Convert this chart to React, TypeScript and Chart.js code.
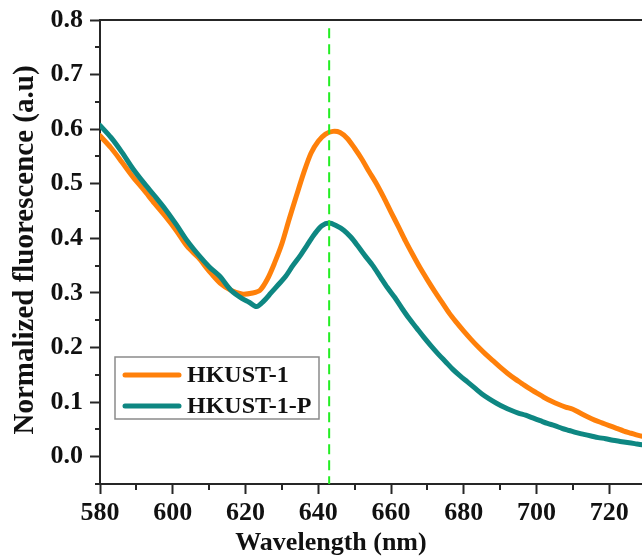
import React, { useEffect, useRef } from "react";
import { Chart, registerables } from "chart.js";

Chart.register(...registerables);

// ---- data ----
const hkustWavelength = [580,583,586,589,592,595,598,601,604,607,610,613,616,619,622,624,626,628,630,632,634,636,638,640,642,644,646,648,650,652,654,656,658,660,662,664,666,668,670,672,674,676,678,680,682,684,686,688,690,692,694,696,698,700,702,704,706,708,710,712,714,716,718,720,722,724,726,728,730,732];
const hkustValues = [0.588,0.566,0.540,0.513,0.489,0.464,0.440,0.414,0.385,0.365,0.340,0.318,0.305,0.298,0.300,0.305,0.325,0.355,0.390,0.435,0.478,0.520,0.556,0.578,0.591,0.596,0.594,0.583,0.565,0.545,0.522,0.500,0.475,0.448,0.422,0.395,0.370,0.346,0.324,0.303,0.283,0.263,0.246,0.230,0.215,0.201,0.188,0.176,0.164,0.153,0.143,0.134,0.125,0.117,0.109,0.102,0.096,0.091,0.087,0.080,0.073,0.067,0.062,0.057,0.052,0.047,0.043,0.039,0.036,0.033];

const hkustPWavelength = [580,583,586,589,592,595,598,601,604,607,610,613,616,619,621,623,625,627,629,631,633,635,637,639,641,643,645,647,649,651,653,655,657,659,661,663,665,667,669,671,673,675,677,679,681,683,685,687,689,691,693,695,697,699,701,703,705,707,709,711,713,715,717,719,721,723,725,727,729,731];
const hkustPValues = [0.607,0.585,0.558,0.528,0.502,0.478,0.453,0.425,0.395,0.370,0.348,0.330,0.305,0.290,0.283,0.275,0.285,0.300,0.315,0.330,0.350,0.368,0.388,0.408,0.423,0.428,0.423,0.415,0.402,0.385,0.367,0.350,0.330,0.310,0.292,0.272,0.253,0.236,0.219,0.203,0.188,0.174,0.160,0.148,0.137,0.126,0.115,0.106,0.098,0.091,0.085,0.080,0.076,0.071,0.066,0.061,0.057,0.052,0.048,0.044,0.041,0.038,0.035,0.033,0.030,0.028,0.026,0.024,0.022,0.021];

const markerWavelength = 643;
const markerRange = [0.785, -0.05];

const xMajorTicks = [580, 600, 620, 640, 660, 680, 700, 720, 740];
const xMinorTicks = [590, 610, 630, 650, 670, 690, 710, 730];
const yMajorTicks = [0.0, 0.1, 0.2, 0.3, 0.4, 0.5, 0.6, 0.7, 0.8];
const yMinorTicks = [-0.05, 0.05, 0.15, 0.25, 0.35, 0.45, 0.55, 0.65, 0.75];

const seriesLabels = ["HKUST-1", "HKUST-1-P"];
const xTitle = "Wavelength (nm)";
const yTitle = "Normalized fluorescence (a.u)";

// ---- style ----
const ORANGE = "#FF800A";
const TEAL = "#0E8782";
const GREEN = "#22EE22";
const AXIS = "#262626";
const FONT = "'Liberation Serif', 'Times New Roman', serif";

const CANVAS_W = 712;
const CANVAS_H = 556;

const decorPlugin = {
  id: "decor",
  afterDraw(chart: any) {
    const ctx = chart.ctx as CanvasRenderingContext2D;
    const xs = chart.scales.x;
    const ys = chart.scales.y;
    const area = chart.chartArea;
    ctx.save();
    // minor ticks
    ctx.strokeStyle = AXIS;
    ctx.lineWidth = 2;
    for (const v of xMinorTicks) {
      const px = Math.round(xs.getPixelForValue(v));
      ctx.beginPath();
      ctx.moveTo(px, area.bottom);
      ctx.lineTo(px, area.bottom + 6);
      ctx.stroke();
    }
    for (const v of yMinorTicks) {
      const py = Math.round(ys.getPixelForValue(v));
      ctx.beginPath();
      ctx.moveTo(area.left, py);
      ctx.lineTo(area.left - 5, py);
      ctx.stroke();
    }

    // legend
    const lx = 115, ly = 357, lw = 204, lh = 62;
    ctx.fillStyle = "#ffffff";
    ctx.fillRect(lx, ly, lw, lh);
    ctx.strokeStyle = "#8a8a8a";
    ctx.lineWidth = 1.5;
    ctx.strokeRect(lx, ly, lw, lh);
    const entries = [
      { label: seriesLabels[0], color: ORANGE, y: 375 },
      { label: seriesLabels[1], color: TEAL, y: 406 },
    ];
    ctx.font = `bold 24px ${FONT}`;
    ctx.textBaseline = "middle";
    ctx.textAlign = "left";
    for (const e of entries) {
      ctx.strokeStyle = e.color;
      ctx.lineWidth = 5;
      ctx.lineCap = "round";
      ctx.beginPath();
      ctx.moveTo(125, e.y);
      ctx.lineTo(179, e.y);
      ctx.stroke();
      ctx.fillStyle = "#111";
      ctx.fillText(e.label, 187, e.y + 1);
    }

    // titles
    ctx.fillStyle = "#111";
    ctx.font = `bold 26px ${FONT}`;
    ctx.textAlign = "center";
    ctx.textBaseline = "alphabetic";
    ctx.fillText(xTitle, 331, 550);

    ctx.save();
    ctx.translate(33, 250);
    ctx.rotate(-Math.PI / 2);
    ctx.font = `bold 29px ${FONT}`;
    ctx.textAlign = "center";
    ctx.textBaseline = "alphabetic";
    ctx.fillText(yTitle, 0, 0);
    ctx.restore();

    ctx.restore();
  },
};

export default function App() {
  const ref = useRef<HTMLCanvasElement | null>(null);

  useEffect(() => {
    if (!ref.current) return;
    const tickFont = { family: FONT, size: 26, weight: "bold" as const, lineHeight: 1 };
    const chart = new Chart(ref.current, {
      type: "line",
      data: {
        datasets: [
          {
            label: "marker",
            data: markerRange.map((v) => ({ x: markerWavelength, y: v })),
            borderColor: GREEN,
            borderWidth: 2,
            borderDash: [10, 6],
            pointRadius: 0,
            tension: 0,
          },
          {
            label: seriesLabels[1],
            data: hkustPWavelength.map((w, i) => ({ x: w, y: hkustPValues[i] })),
            borderColor: TEAL,
            borderWidth: 5,
            pointRadius: 0,
            tension: 0.3,
            borderJoinStyle: "round",
            borderCapStyle: "round",
          },
          {
            label: seriesLabels[0],
            data: hkustWavelength.map((w, i) => ({ x: w, y: hkustValues[i] })),
            borderColor: ORANGE,
            borderWidth: 5,
            pointRadius: 0,
            tension: 0.3,
            borderJoinStyle: "round",
            borderCapStyle: "round",
          },
        ],
      },
      options: {
        responsive: false,
        animation: false,
        devicePixelRatio: 1,
        layout: { padding: { top: 20, left: 0, right: 0, bottom: 0 } },
        plugins: { legend: { display: false }, tooltip: { enabled: false } },
        scales: {
          x: {
            type: "linear",
            position: "bottom",
            min: 580,
            max: 740,
            afterBuildTicks: (s: any) => {
              s.ticks = xMajorTicks.map((v) => ({ value: v }));
            },
            afterFit: (s: any) => {
              s.height = 72;
            },
            grid: {
              drawOnChartArea: false,
              drawTicks: true,
              tickLength: 10,
              tickWidth: 2,
              tickColor: AXIS,
            },
            border: { display: true, color: AXIS, width: 2 },
            ticks: {
              color: "#111",
              font: tickFont,
              padding: 6,
              maxRotation: 0,
              autoSkip: false,
              callback: (v: any) => String(v),
            },
          },
          x2: {
            type: "linear",
            position: "top",
            min: 580,
            max: 740,
            afterFit: (s: any) => {
              s.height = 0;
            },
            grid: { display: false, drawTicks: false },
            border: { display: true, color: AXIS, width: 2 },
            ticks: { display: false },
          },
          y: {
            type: "linear",
            position: "left",
            min: -0.05,
            max: 0.8,
            afterBuildTicks: (s: any) => {
              s.ticks = yMajorTicks.map((v) => ({ value: v }));
            },
            afterFit: (s: any) => {
              s.width = 100;
            },
            grid: {
              drawOnChartArea: false,
              drawTicks: true,
              tickLength: 10,
              tickWidth: 2,
              tickColor: AXIS,
            },
            border: { display: true, color: AXIS, width: 2 },
            ticks: {
              color: "#111",
              font: tickFont,
              padding: 7,
              autoSkip: false,
              callback: (v: any) => Number(v).toFixed(1),
            },
          },
          y2: {
            type: "linear",
            position: "right",
            min: -0.05,
            max: 0.8,
            afterFit: (s: any) => {
              s.width = CANVAS_W - 682;
            },
            grid: { display: false, drawTicks: false },
            border: { display: true, color: AXIS, width: 2 },
            ticks: { display: false },
          },
        },
      },
      plugins: [decorPlugin],
    } as any);
    return () => chart.destroy();
  }, []);

  return (
    <div
      style={{
        position: "absolute",
        left: 0,
        top: 0,
        width: 642,
        height: 556,
        overflow: "hidden",
        background: "#fff",
      }}
    >
      <canvas ref={ref} width={CANVAS_W} height={CANVAS_H} style={{ display: "block" }} />
    </div>
  );
}
